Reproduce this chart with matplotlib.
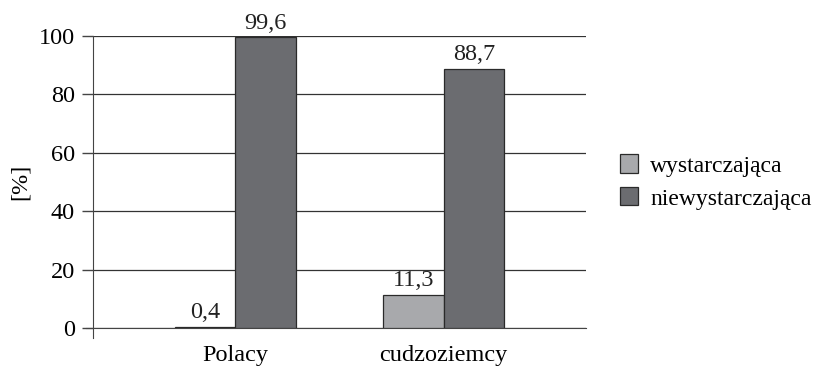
import matplotlib
matplotlib.use("Agg")
import matplotlib.pyplot as plt
import numpy as np

categories = ["Polacy", "cudzoziemcy"]
series_names = ["wystarczająca", "niewystarczająca"]
wystarczajaca = [0.4, 11.3]
niewystarczajaca = [99.6, 88.7]
value_labels = [["0,4", "11,3"], ["99,6", "88,7"]]
yticks = [0, 20, 40, 60, 80, 100]

plt.rcParams['font.family'] = ['Liberation Serif', 'DejaVu Serif']
FS = 17.5

fig = plt.figure(figsize=(8.17, 3.71), dpi=100)
ax = fig.add_axes([93/817, 43/371, (586-93)/817, (328-36)/371])

x = np.arange(len(categories))
w = 0.29
colors = ["#a8a9ac", "#6b6c70"]
data = [wystarczajaca, niewystarczajaca]
for i, (vals, col, name) in enumerate(zip(data, colors, series_names)):
    pos = x + (i - 0.5) * w
    ax.bar(pos, vals, width=w, color=col, edgecolor="#2a2a2a", linewidth=0.9, label=name, zorder=3)
    for p, v, lab in zip(pos, vals, value_labels[i]):
        ax.text(p, v + 1.2, lab, ha="center", va="bottom", fontsize=FS, color="#222222")

ax.set_xlim(-0.684, 1.684)
ax.set_ylim(0, 100)
ax.set_yticks(yticks)
ax.set_yticklabels([str(t) for t in yticks], fontsize=FS)
ax.set_xticks(x)
ax.set_xticklabels(categories, fontsize=FS)
ax.tick_params(axis="x", length=0, pad=12)
ax.tick_params(axis="y", length=8, width=1, color="#444444", pad=5)
ax.yaxis.grid(True, color="#333333", linewidth=0.9, zorder=0)
ax.set_axisbelow(True)
for s in ["top", "right"]:
    ax.spines[s].set_visible(False)
ax.spines["left"].set_color("#444444")
ax.spines["bottom"].set_color("#444444")
ax.spines["left"].set_bounds(-3.4, 100)
ax.spines["bottom"].set_bounds(-0.72, 1.684)
ax.set_ylabel("[%]", fontsize=FS, labelpad=6)

leg = ax.legend(loc="center left", bbox_to_anchor=(1.025, 0.5), frameon=False, fontsize=17,
                handlelength=0.8, handleheight=0.8, handletextpad=0.5, labelspacing=0.45)
fig.savefig("out.png", dpi=100)
